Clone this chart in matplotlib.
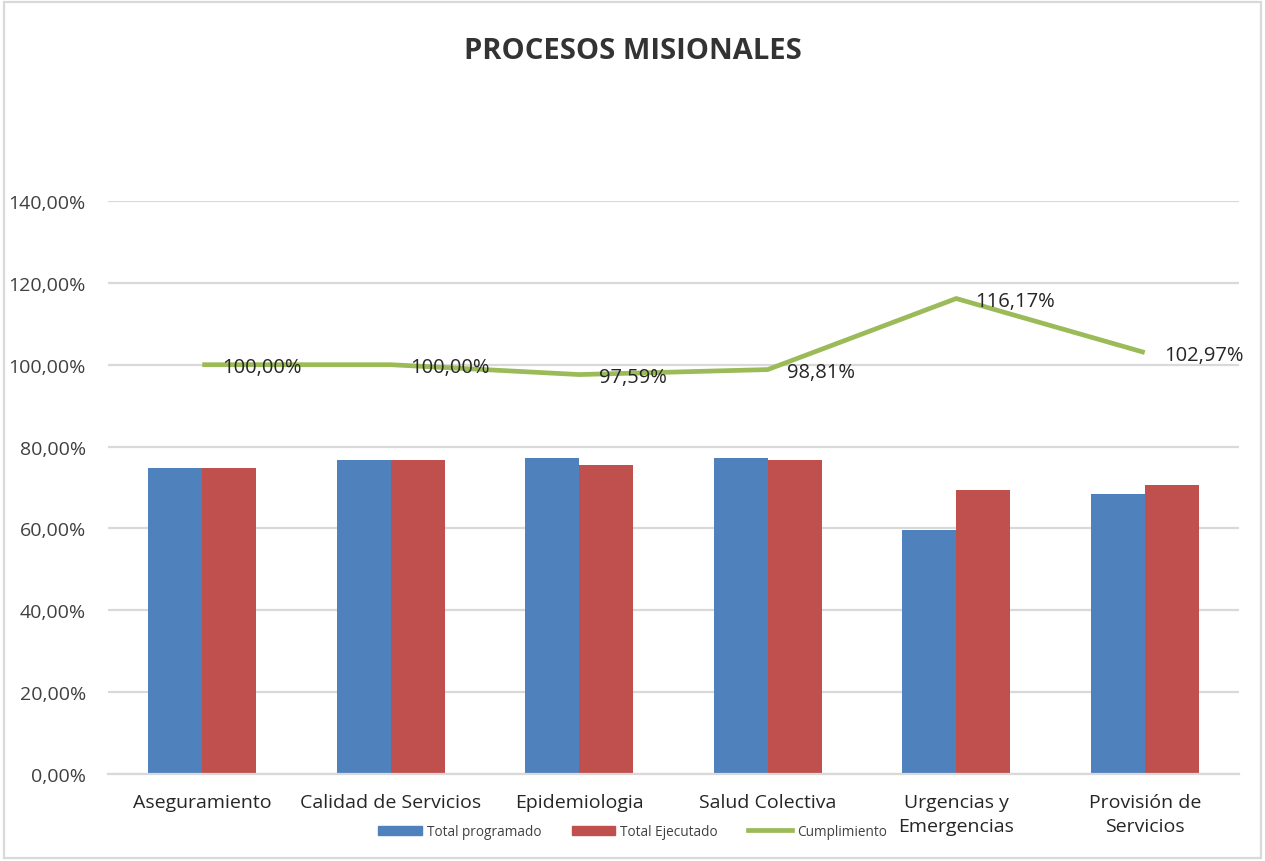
import numpy as np
import matplotlib.pyplot as plt
from matplotlib.patches import Patch, Rectangle
from matplotlib.lines import Line2D
from matplotlib.ticker import FuncFormatter

categorias = ['Aseguramiento', 'Calidad de Servicios', 'Epidemiologia', 'Salud Colectiva',
              'Urgencias y\nEmergencias', 'Provisión de\nServicios']
programado = [74.7, 76.6, 77.2, 77.2, 59.7, 68.5]
ejecutado = [74.7, 76.6, 75.4, 76.6, 69.4, 70.7]
cumplimiento = [100.00, 100.00, 97.59, 98.81, 116.17, 102.97]

plt.rcParams['font.family'] = ['Open Sans', 'DejaVu Sans']

azul = '#4f81bd'
rojo = '#c0504d'
verde = '#9bbb59'
gris = '#d9d9d9'

fig = plt.figure(figsize=(12.65, 8.62), dpi=100)
ax = fig.add_axes([0.0854, 0.1009, 0.894, 0.6648])

x = np.arange(len(categorias))
w = 0.287
ax.bar(x - w / 2, programado, w, color=azul, zorder=2)
ax.bar(x + w / 2, ejecutado, w, color=rojo, zorder=2)
ax.plot(x, cumplimiento, color=verde, lw=3.4, zorder=3, solid_capstyle='butt')

def fmt(v):
    return ('%.2f' % v).replace('.', ',') + '%'

for xi, v in zip(x, cumplimiento):
    ax.annotate(fmt(v), (xi, v), xytext=(14, -1.5), textcoords='offset points',
                ha='left', va='center', fontsize=14.5, color='#262626', zorder=4)

ax.set_xlim(-0.5, len(categorias) - 0.5)
ax.set_ylim(0, 140)
ax.set_yticks(np.arange(0, 141, 20))
ax.yaxis.set_major_formatter(FuncFormatter(lambda v, p: fmt(v)))
ax.set_xticks(x)
ax.set_xticklabels(categorias, fontsize=14, color='#262626', linespacing=1.4, va='top')
ax.tick_params(axis='y', length=0, labelsize=14, labelcolor='#404040', pad=16)
ax.tick_params(axis='x', length=0, pad=14)
ax.grid(axis='y', color=gris, lw=1.6, zorder=0)
for s in ['top', 'right', 'left']:
    ax.spines[s].set_visible(False)
ax.spines['bottom'].set_color(gris)
ax.spines['bottom'].set_linewidth(1.6)

fig.text(0.5, 0.94, 'PROCESOS MISIONALES', ha='center', va='center',
         fontsize=21, fontweight='bold', color='#333333')

handles = [Patch(color=azul), Patch(color=rojo), Line2D([], [], color=verde, lw=3.4)]
fig.legend(handles, ['Total programado', 'Total Ejecutado', 'Cumplimiento'],
           loc='center', bbox_to_anchor=(0.5, 0.034), ncol=3, frameon=False,
           fontsize=9.8, handlelength=3.2, columnspacing=2.2, handletextpad=0.4,
           labelcolor='#404040')

fig.patches.append(Rectangle((0.003, 0.004), 0.994, 0.992, transform=fig.transFigure,
                             fill=False, edgecolor=gris, lw=1.6))

fig.savefig('out.png', dpi=100, facecolor='white')
